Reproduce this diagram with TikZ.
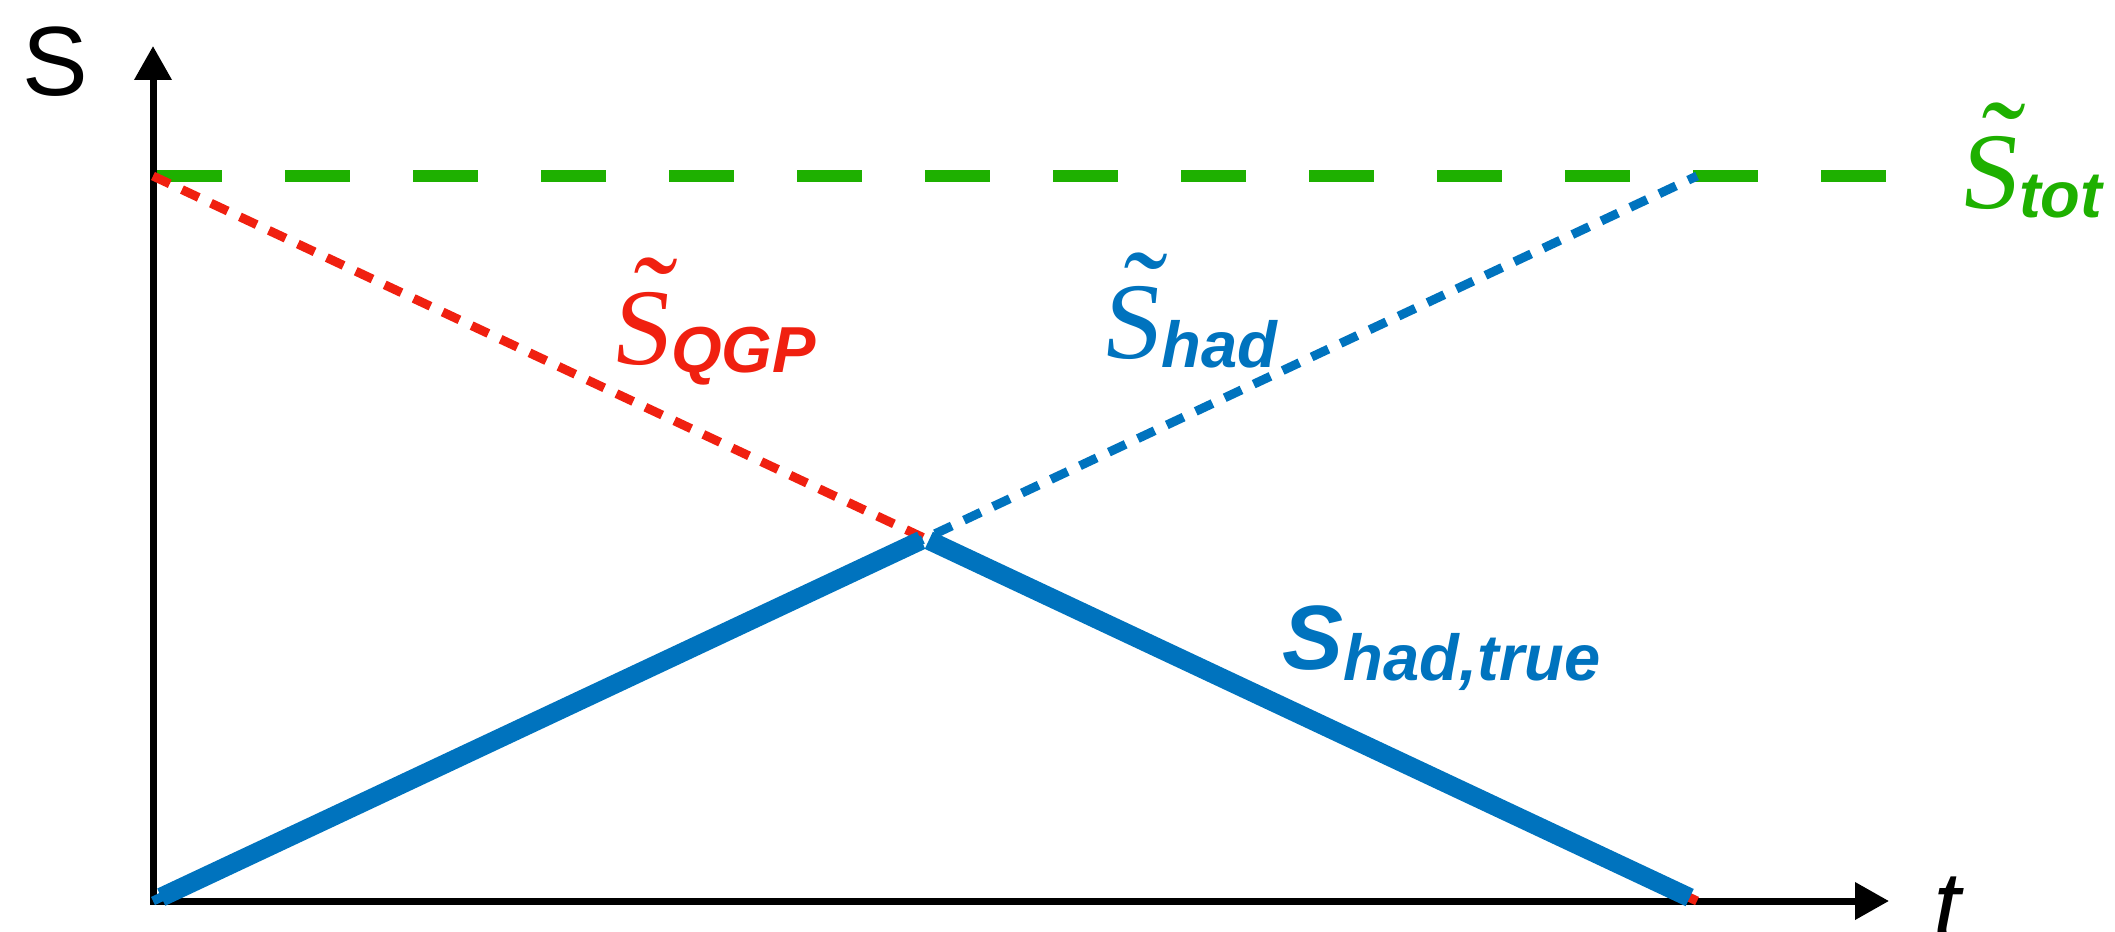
\documentclass[tikz,border=0pt]{standalone}
\usepackage{fontspec}
\setmainfont{Liberation Sans}
\newfontfamily\serifS[FakeSlant=0.1]{Liberation Serif}
\usetikzlibrary{arrows.meta}
\definecolor{TotGreen}{RGB}{30,176,0}
\definecolor{QgpRed}{RGB}{240,32,16}
\definecolor{HadBlue}{RGB}{0,115,190}

% entropy labels: S-tilde with a bold italic index
\newcommand{\tildeS}[1]{{\fontsize{31}{31}\selectfont\serifS
  \rlap{\kern4.4pt\raisebox{5.2pt}{\fontsize{37}{37}\selectfont\char"02DC}}S}%
  \raisebox{-2.3pt}{\fontsize{18.5}{18.5}\selectfont\bfseries\itshape #1}}

\begin{document}
\begin{tikzpicture}[
  x=0.1mm, y=-0.1mm,
  axis/.style={line width=0.7mm, line join=miter, {Triangle[length=3.4mm,width=3.6mm]}-{Triangle[length=3.4mm,width=3.6mm]}},
  total/.style={draw=TotGreen, line width=1.2mm, dash pattern=on 6.5mm off 6.3mm},
  dotline/.style={line width=0.9mm, dash pattern=on 1.85mm off 1.35mm},
  trueline/.style={draw=HadBlue, line width=1.9mm},
  lbl/.style={anchor=base west, inner sep=0pt}
]
\useasboundingbox (0,0) rectangle (2115,932);

\coordinate (O) at (153,901);
\coordinate (ytop) at (153,46);
\coordinate (xend) at (1889,901);
\coordinate (tot0) at (157,176);
\coordinate (tot1) at (1886,176);
\coordinate (qgp0) at (153,176);
\coordinate (qgp1) at (1697,901);
\coordinate (had1) at (1697,176);
\coordinate (cross) at (925,538.5);

% axes
\draw[axis] (ytop) -- (O) -- (xend);
\node[lbl, font=\fontsize{28}{28}\selectfont] (Slabel) at (22,96) {S};
\node[lbl, font=\fontsize{28}{28}\selectfont\itshape] (tlabel) at (1933,940) {t};

% total, QGP and hadron entropies
\draw[total] (tot0) -- (tot1);
\draw[dotline, draw=QgpRed] (qgp0) -- (qgp1);
\draw[dotline, draw=HadBlue] (O) -- (had1);
\draw[trueline, shorten <=2.6pt, shorten >=1.2pt] (O) -- (cross);
\draw[trueline, shorten <=1.2pt, shorten >=2.3pt] (cross) -- (qgp1);

\node[lbl, text=TotGreen] (tot) at (1958,209) {\tildeS{tot}};
\node[lbl, text=QgpRed] (qgp) at (610,364) {\tildeS{QGP}};
\node[lbl, text=HadBlue] (had) at (1100,359) {\tildeS{had}};
\node[lbl, text=HadBlue] (true) at (1282,669)
  {{\fontsize{26}{26}\selectfont\bfseries\itshape S}\raisebox{-3.4pt}{\fontsize{18.5}{18.5}\selectfont\bfseries\itshape had,true}};
\end{tikzpicture}
\end{document}
